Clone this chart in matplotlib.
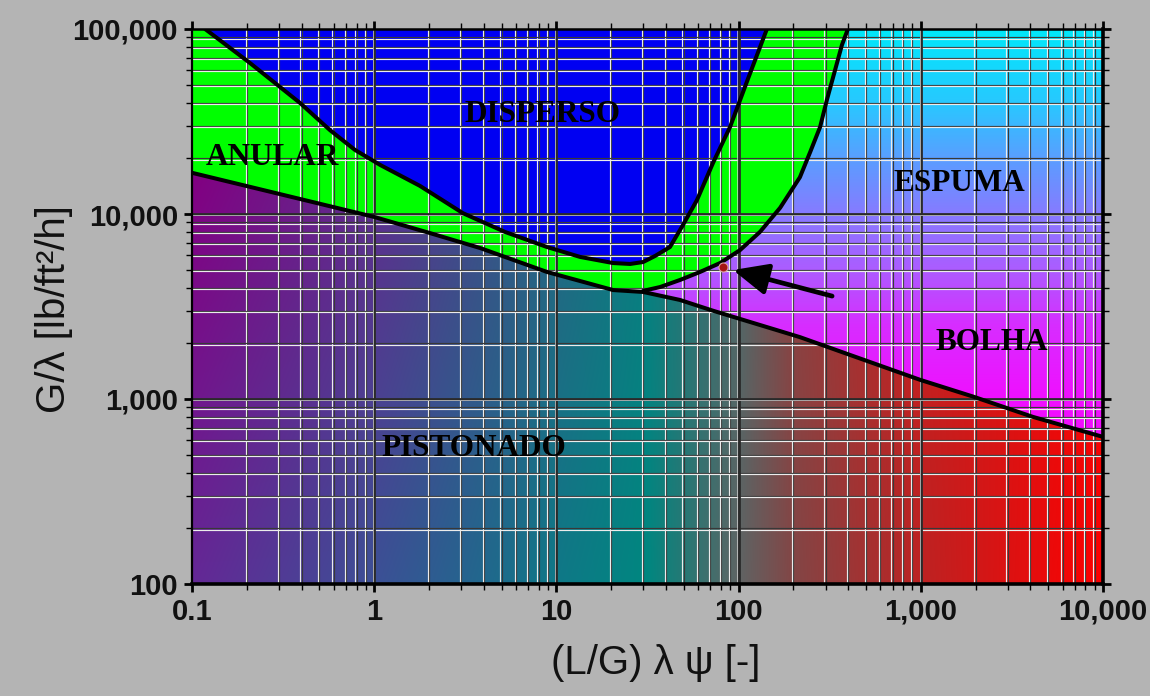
import numpy as np
import matplotlib
matplotlib.use("Agg")
import matplotlib.pyplot as plt
from matplotlib.patches import Polygon
from matplotlib import transforms
from matplotlib.ticker import LogLocator, NullFormatter

# Baker flow-pattern map: x = (L/G)·λ·ψ, y = G/λ
# Dispersed-flow boundary (upper-left edge, U bottom, right edge)
disperso_x = [0.118, 0.208, 0.392, 0.572, 0.784, 1.08, 1.78, 3.07, 5.22, 8.88, 13.5,
              20.5, 25.4, 29.9, 34.8, 42.0, 49.5, 59.1, 72.4, 89.7, 113, 143]
disperso_y = [100000, 65500, 39800, 28400, 22200, 18400, 14200, 10100, 8000, 6630, 5860,
              5430, 5370, 5500, 5930, 6630, 8720, 11900, 18900, 29500, 54300, 100000]

# Annular outer boundary (towards froth / bubble)
anular_outer_x = [29.9, 37.1, 47.7, 61.4, 79.1, 102, 131, 169, 217, 247, 280, 305, 342, 369, 398]
anular_outer_y = [3840, 4030, 4400, 4860, 5430, 6390, 8000, 10800, 15800, 21600, 29500,
                  41300, 62300, 81900, 100000]

# Annular lower boundary (towards slug)
anular_lower_x = [0.1, 1.0, 2.02, 3.81, 8.88, 20.5, 29.9]
anular_lower_y = [16700, 9640, 7890, 6550, 4860, 3880, 3790]

# Slug upper boundary (towards bubble)
pistonado_x = [29.9, 47.7, 72.4, 98, 217, 990, 1940, 4130, 10000]
pistonado_y = [3790, 3430, 3000, 2740, 2160, 1270, 1030, 800, 624]

# Operating point and arrow
point_x, point_y = 82, 5170
arrow_tail_x, arrow_tail_y = 326, 3600
arrow_tip_x, arrow_tip_y = 93.2, 4980

x_ticks = [0.1, 1, 10, 100, 1000, 10000]
x_tick_labels = ["0.1", "1", "10", "100", "1,000", "10,000"]
y_ticks = [100, 1000, 10000, 100000]
y_tick_labels = ["100", "1,000", "10,000", "100,000"]

region_labels = ["DISPERSO", "ANULAR", "ESPUMA", "BOLHA", "PISTONADO"]
region_x = [8.44, 0.278, 1620, 2460, 3.53]
region_y = [34300, 20300, 14700, 2010, 543]

XMIN, XMAX = 0.1, 10000
YMIN, YMAX = 100, 100000

BG = "#b4b4b4"
RECT = [192 / 1150, 1 - 584 / 696, 911 / 1150, 555 / 696]

fig = plt.figure(figsize=(11.5, 6.96), dpi=100, facecolor=BG)

# colour backdrop, laid out in decades (log10 units) behind the map
bg = fig.add_axes(RECT, zorder=0)
bg.set_xlim(np.log10(XMIN), np.log10(XMAX))
bg.set_ylim(np.log10(YMIN), np.log10(YMAX))
bg.set_axis_off()

ax = fig.add_axes(RECT, zorder=1)
ax.patch.set_visible(False)
ax.set_xscale("log")
ax.set_yscale("log")
ax.set_xlim(XMIN, XMAX)
ax.set_ylim(YMIN, YMAX)


def ramp(t, stops, cols):
    cols = np.asarray(cols, dtype=float)
    return np.stack([np.interp(t, stops, cols[:, k]) for k in range(3)], axis=-1)


nx, ny = 900, 560
lxc = np.linspace(np.log10(XMIN), np.log10(XMAX), nx)
lyc = np.linspace(np.log10(YMIN), np.log10(YMAX), ny)
LX, LY = np.meshgrid(lxc, lyc)
ext = (np.log10(XMIN), np.log10(XMAX), np.log10(YMIN), np.log10(YMAX))

# froth / bubble: vertical cyan -> violet -> magenta
froth = ramp(LY, [2.0, 3.0, 3.4, 3.7, 4.0, 4.3, 4.6, 5.0],
             [(250, 0, 255), (240, 15, 255), (215, 45, 255), (172, 92, 255),
              (135, 122, 255), (90, 158, 255), (40, 200, 255), (0, 232, 250)]) / 255.0
bg.imshow(froth, extent=ext, origin="lower", aspect="auto", interpolation="bilinear", zorder=0)

# slug: horizontal purple -> teal -> grey -> red, slightly varying with height
lx_stops = [-1, 0, 1, 1.5, 2, 2.3, 3, 4]
bottom_cols = [(100, 40, 150), (60, 80, 150), (15, 120, 135), (0, 135, 128),
               (95, 100, 100), (130, 70, 70), (188, 35, 35), (255, 0, 0)]
top_cols = [(130, 0, 130), (95, 45, 140), (40, 100, 130), (10, 125, 128),
            (75, 105, 105), (140, 65, 65), (200, 30, 30), (235, 10, 10)]
cb = ramp(LX, lx_stops, bottom_cols)
ct = ramp(LX, lx_stops, top_cols)
w = np.clip((LY - 2.0) / 2.2, 0, 1)[..., None]
slug = ((1 - w) * cb + w * ct) / 255.0
slug_img = bg.imshow(slug, extent=ext, origin="lower", aspect="auto",
                     interpolation="bilinear", zorder=1)

slug_poly = list(zip(anular_lower_x, anular_lower_y)) + \
    list(zip(pistonado_x[1:], pistonado_y[1:])) + [(XMAX * 2, YMIN / 2), (XMIN / 2, YMIN / 2)]
slug_patch = Polygon(slug_poly, closed=True, facecolor="none", edgecolor="none")
ax.add_patch(slug_patch)
slug_img.set_clip_path(slug_patch)

# annular (green) region
green_poly = [(XMIN / 2, anular_lower_y[0]), (XMIN / 2, YMAX * 2), (anular_outer_x[-1], YMAX * 2)] + \
    list(zip(anular_outer_x[::-1], anular_outer_y[::-1])) + \
    list(zip(anular_lower_x[::-1], anular_lower_y[::-1]))
ax.add_patch(Polygon(green_poly, closed=True, facecolor="#00ff00", edgecolor="none", zorder=1))

# dispersed (blue) region
blue_poly = list(zip(disperso_x, disperso_y)) + [(disperso_x[-1], YMAX * 2), (disperso_x[0], YMAX * 2)]
ax.add_patch(Polygon(blue_poly, closed=True, facecolor="#0000f2", edgecolor="none", zorder=1.1))

# embossed grid: dark line with a light line right beside it
decades_x = [0.1, 1, 10, 100, 1000]
decades_y = [100, 1000, 10000]
minor_x = [k * d for d in decades_x for k in range(2, 10)]
minor_y = [k * d for d in decades_y for k in range(2, 10)]
major_x = [1, 10, 100, 1000]
major_y = [1000, 10000]

tv_light = transforms.offset_copy(ax.get_xaxis_transform(), fig=fig, x=-1.3, y=0, units="dots")
th_light = transforms.offset_copy(ax.get_yaxis_transform(), fig=fig, x=0, y=-1.3, units="dots")
for xv in minor_x:
    ax.axvline(xv, color="#383838", lw=0.85, zorder=2)
    ax.plot([xv, xv], [0, 1], transform=tv_light, color="#ececec", lw=0.85, zorder=2)
for yv in minor_y:
    ax.axhline(yv, color="#383838", lw=0.85, zorder=2)
    ax.plot([0, 1], [yv, yv], transform=th_light, color="#ececec", lw=0.85, zorder=2)
for xv in major_x:
    ax.axvline(xv, color="#2a2a2a", lw=2.0, zorder=2.1)
    ax.plot([xv, xv], [0, 1], transform=tv_light, color="#d8d8d8", lw=0.5, zorder=2.1)
for yv in major_y:
    ax.axhline(yv, color="#2a2a2a", lw=2.0, zorder=2.1)
    ax.plot([0, 1], [yv, yv], transform=th_light, color="#d8d8d8", lw=0.5, zorder=2.1)

# boundary curves
line_kw = dict(color="black", lw=2.9, solid_joinstyle="round", solid_capstyle="round", zorder=3)
ax.plot(disperso_x, disperso_y, **line_kw)
ax.plot(anular_outer_x, anular_outer_y, **line_kw)
ax.plot(anular_lower_x + pistonado_x[1:], anular_lower_y + pistonado_y[1:], **line_kw)

# region names
for name, rx, ry in zip(region_labels, region_x, region_y):
    ax.text(rx, ry, name, ha="center", va="center", fontsize=22.5, fontweight="bold",
            family="Liberation Serif", color="black", zorder=5)

# operating point with arrow
ax.annotate("", xy=(arrow_tip_x, arrow_tip_y), xytext=(arrow_tail_x, arrow_tail_y),
            arrowprops=dict(arrowstyle="-|>,head_length=0.85,head_width=0.38", lw=3.4,
                            color="black", mutation_scale=25, shrinkA=0, shrinkB=0),
            zorder=5)
ax.plot([point_x], [point_y], "o", ms=6.5, color="#a51515", mec="#d9a0a0", mew=0.8, zorder=5)

# axes, ticks and labels
ax.set_xticks(x_ticks, x_tick_labels)
ax.set_yticks(y_ticks, y_tick_labels)
ax.xaxis.set_minor_locator(LogLocator(base=10, subs=range(2, 10), numticks=20))
ax.yaxis.set_minor_locator(LogLocator(base=10, subs=range(2, 10), numticks=20))
ax.xaxis.set_minor_formatter(NullFormatter())
ax.yaxis.set_minor_formatter(NullFormatter())
ax.tick_params(which="both", direction="out", top=True, right=True, color="black")
ax.tick_params(which="major", length=6, width=2.0, pad=4)
ax.tick_params(which="minor", length=4.5, width=1.0)
for lab in ax.get_xticklabels() + ax.get_yticklabels():
    lab.set_family("Liberation Sans")
    lab.set_fontweight("bold")
    lab.set_fontsize(21)
    lab.set_color("#111111")

for side, lw in (("left", 1.6), ("top", 1.8), ("bottom", 2.6), ("right", 2.6)):
    ax.spines[side].set_linewidth(lw)
    ax.spines[side].set_color("black")
    ax.spines[side].set_zorder(6)

ax.set_xlabel("(L/G) λ ψ [-]", fontsize=29, family="Liberation Sans", color="#111111",
              va="center")
ax.xaxis.set_label_coords((656 - 192) / 911, -(663 - 584) / 555)
ax.set_ylabel("G/λ [lb/ft²/h]", fontsize=29, family="Liberation Sans", color="#111111",
              va="center", ha="center")
ax.yaxis.set_label_coords((54 - 192) / 911, (584 - 309) / 555)

fig.savefig("out.png", dpi=100, facecolor=BG)
